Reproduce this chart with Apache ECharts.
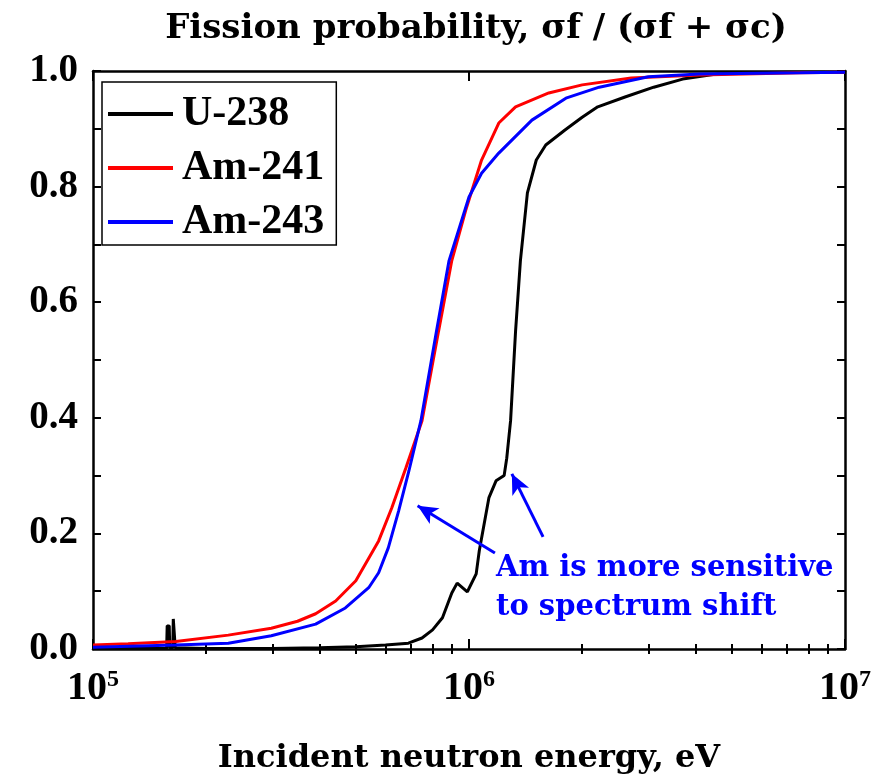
<!DOCTYPE html>
<html>
<head>
<meta charset="utf-8">
<script src="https://cdn.jsdelivr.net/npm/echarts@6/dist/echarts.min.js"></script>
<style>
  html, body { margin: 0; padding: 0; background: #fff; }
  #chart { width: 890px; height: 783px; }
</style>
</head>
<body>
<div id="chart"></div>
<script>
// energies (eV) and fission probabilities
const u238Energy = [1e5, 1.57e5, 1.575e5, 1.595e5, 1.6e5, 1.63e5, 1.635e5, 1.65e5, 1.655e5, 2e5, 3e5, 4e5, 5e5, 6e5, 6.9e5, 7.5e5, 8.0e5, 8.5e5, 9.0e5, 9.3e5, 9.9e5, 1.045e6, 1.065e6, 1.13e6, 1.18e6, 1.24e6, 1.26e6, 1.29e6, 1.33e6, 1.37e6, 1.43e6, 1.51e6, 1.6e6, 1.8e6, 2.0e6, 2.2e6, 2.6e6, 3.1e6, 3.7e6, 4.6e6, 5.6e6, 7e6, 1e7];
const u238Prob = [0.001, 0.001, 0.04, 0.04, 0.002, 0.002, 0.052, 0.052, 0.002, 0.001, 0.001, 0.002, 0.004, 0.007, 0.010, 0.019, 0.033, 0.054, 0.097, 0.114, 0.099, 0.13, 0.17, 0.262, 0.291, 0.30, 0.33, 0.395, 0.55, 0.672, 0.789, 0.846, 0.872, 0.898, 0.920, 0.938, 0.955, 0.972, 0.986, 0.995, 0.997, 0.998, 0.998];

const am241Energy = [1e5, 1.24e5, 1.66e5, 2.29e5, 2.98e5, 3.5e5, 3.91e5, 4.42e5, 5.0e5, 5.75e5, 6.23e5, 6.8e5, 7.5e5, 8.3e5, 9.0e5, 9.8e5, 1.08e6, 1.2e6, 1.33e6, 1.63e6, 2.0e6, 2.7e6, 4.1e6, 7.6e6, 1e7];
const am241Prob = [0.007, 0.009, 0.013, 0.024, 0.036, 0.048, 0.061, 0.083, 0.118, 0.187, 0.244, 0.314, 0.395, 0.55, 0.672, 0.759, 0.846, 0.91, 0.938, 0.962, 0.976, 0.988, 0.993, 0.997, 0.998];

const am243Energy = [1e5, 1.66e5, 2.29e5, 2.98e5, 3.91e5, 4.69e5, 5.41e5, 5.75e5, 6.1e5, 6.5e5, 6.92e5, 7.45e5, 8.2e5, 8.85e5, 1.0e6, 1.08e6, 1.2e6, 1.47e6, 1.81e6, 2.22e6, 3.0e6, 4.1e6, 7.6e6, 1e7];
const am243Prob = [0.003, 0.007, 0.010, 0.023, 0.043, 0.071, 0.106, 0.132, 0.175, 0.239, 0.308, 0.395, 0.551, 0.672, 0.782, 0.823, 0.858, 0.915, 0.953, 0.972, 0.99, 0.995, 0.997, 0.998];

const minorEnergyTicks = [2e5, 3e5, 4e5, 5e5, 6e5, 7e5, 8e5, 9e5, 2e6, 3e6, 4e6, 5e6, 6e6, 7e6, 8e6, 9e6];

// arrows: [tail, head] in data coords
const arrowAm = [[1.172e6, 0.166], [7.3e5, 0.248]];
const arrowU = [[1.574e6, 0.194], [1.30e6, 0.303]];

const zip = (xs, ys) => xs.map((x, i) => [x, ys[i]]);

const serif = '"Liberation Serif", "DejaVu Serif", serif';
const wideSerif = '"DejaVu Serif", serif';

const chart = echarts.init(document.getElementById('chart'));

const logAxis = (pos, extra) => Object.assign({
  type: 'log',
  logBase: 10,
  min: 1e5,
  max: 1e7,
  position: pos,
  splitLine: { show: false },
  axisLine: { show: true, onZero: false, lineStyle: { color: '#000', width: 2.5 } },
  axisTick: { show: true, inside: true, length: 10, lineStyle: { color: '#000', width: 2 } },
  axisLabel: { show: false }
}, extra);

const option = {
  animation: false,
  title: {
    text: 'Fission probability, σf / (σf + σc)',
    left: 471,
    top: 7,
    textAlign: 'center',
    textStyle: { fontFamily: wideSerif, fontSize: 34, fontWeight: 'bold', color: '#000' }
  },
  legend: {
    left: 102,
    top: 82,
    orient: 'vertical',
    icon: 'rect',
    itemWidth: 65,
    itemHeight: 4,
    itemGap: 12,
    padding: [11, 12, 2, 6],
    borderColor: '#000',
    borderWidth: 1.5,
    textStyle: { fontFamily: serif, fontSize: 42, fontWeight: 'bold', color: '#000', lineHeight: 42, padding: [0, 0, 0, 4] },
    data: ['U-238', 'Am-241', 'Am-243']
  },
  grid: { left: 93, right: 45, top: 71, bottom: 134 },
  xAxis: [
    logAxis('bottom', {
      name: 'Incident neutron energy, eV',
      nameLocation: 'middle',
      nameGap: 94,
      nameTextStyle: { fontFamily: wideSerif, fontSize: 32, fontWeight: 'bold', color: '#000' },
      axisLabel: {
        show: true,
        margin: 20,
        formatter: v => '{b|10}{s|' + Math.round(Math.log10(v)) + '}',
        rich: {
          b: { fontFamily: serif, fontSize: 40, fontWeight: 'bold', color: '#000', lineHeight: 40 },
          s: { fontFamily: serif, fontSize: 24, fontWeight: 'bold', color: '#000', lineHeight: 24, padding: [0, 0, 18, 0] }
        }
      }
    }),
    logAxis('bottom', {
      axisLine: { show: false },
      axisTick: { show: true, inside: true, length: 5, customValues: minorEnergyTicks, lineStyle: { color: '#000', width: 2 } }
    }),
    logAxis('top', {}),
    logAxis('top', {
      axisLine: { show: false },
      axisTick: { show: true, inside: true, length: 5, customValues: minorEnergyTicks, lineStyle: { color: '#000', width: 2 } }
    })
  ],
  yAxis: [
    {
      type: 'value',
      min: 0,
      max: 1,
      interval: 0.2,
      position: 'left',
      splitLine: { show: false },
      axisLine: { show: true, onZero: false, lineStyle: { color: '#000', width: 2.5 } },
      axisTick: { show: true, inside: true, length: 8, lineStyle: { color: '#000', width: 2 } },
      minorTick: { show: true, splitNumber: 2, length: 8, lineStyle: { color: '#000', width: 2 } },
      axisLabel: {
        margin: 15,
        formatter: v => v.toFixed(1),
        fontFamily: serif, fontSize: 39, fontWeight: 'bold', color: '#000'
      }
    },
    {
      type: 'value',
      min: 0,
      max: 1,
      interval: 0.2,
      position: 'right',
      splitLine: { show: false },
      axisLine: { show: true, onZero: false, lineStyle: { color: '#000', width: 2.5 } },
      axisTick: { show: true, inside: true, length: 8, lineStyle: { color: '#000', width: 2 } },
      minorTick: { show: true, splitNumber: 2, length: 8, lineStyle: { color: '#000', width: 2 } },
      axisLabel: { show: false }
    }
  ],
  series: [
    {
      name: 'U-238',
      type: 'line',
      showSymbol: false,
      symbol: 'none',
      data: zip(u238Energy, u238Prob),
      itemStyle: { color: '#000' },
      lineStyle: { color: '#000', width: 3 },
      z: 3
    },
    {
      name: 'Am-241',
      type: 'line',
      showSymbol: false,
      symbol: 'none',
      data: zip(am241Energy, am241Prob),
      itemStyle: { color: '#ff0000' },
      lineStyle: { color: '#ff0000', width: 3 },
      z: 4
    },
    {
      name: 'Am-243',
      type: 'line',
      showSymbol: false,
      symbol: 'none',
      data: zip(am243Energy, am243Prob),
      itemStyle: { color: '#0000ff' },
      lineStyle: { color: '#0000ff', width: 3 },
      z: 5,
      markLine: {
        silent: true,
        symbol: ['none', 'arrow'],
        symbolSize: [14, 20],
        label: { show: false },
        lineStyle: { color: '#0000ff', width: 3, type: 'solid' },
        data: [
          [{ coord: arrowAm[0] }, { coord: arrowAm[1] }],
          [{ coord: arrowU[0] }, { coord: arrowU[1] }]
        ]
      }
    }
  ],
  graphic: [
    {
      type: 'text',
      left: 496,
      top: 549,
      style: {
        text: 'Am is more sensitive\nto spectrum shift',
        font: 'bold 29px ' + wideSerif,
        fill: '#0000ff',
        lineHeight: 39
      }
    }
  ]
};

chart.setOption(option);
</script>
</body>
</html>
